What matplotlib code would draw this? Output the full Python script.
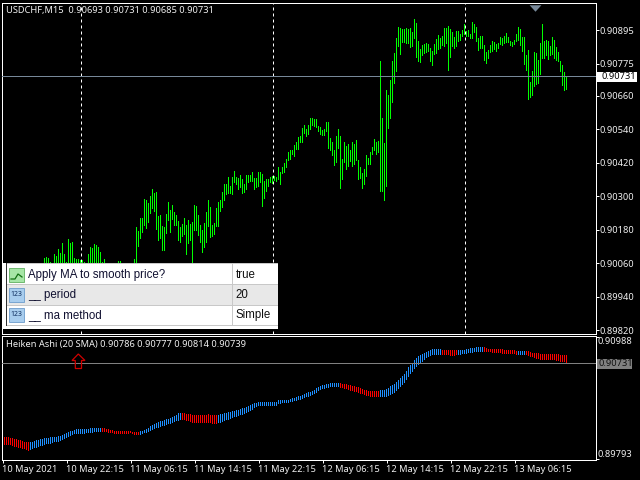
import matplotlib
matplotlib.use('Agg')
import matplotlib.pyplot as plt
from matplotlib.patches import Rectangle, Polygon

plt.rcParams['font.family'] = ['Noto Sans', 'DejaVu Sans']

# main window, one entry per 15 minute bar
high = [
    0.89956, 0.89964, 0.89971, 0.89949, 0.89942, 0.89956, 0.89935, 0.89928, 0.89942, 0.89956,
    0.89949, 0.89971, 0.89985, 0.89971, 0.89992, 0.90007, 0.90021, 0.90014, 0.90028, 0.90042, 0.90050,
    0.90078, 0.90082, 0.90078, 0.90064, 0.90060, 0.90093, 0.90085, 0.90111, 0.90096, 0.90132,
    0.90093, 0.90064, 0.90146, 0.90132, 0.90136, 0.90078, 0.90075, 0.90075, 0.90071, 0.90071,
    0.90064, 0.90053, 0.90093, 0.90118, 0.90114, 0.90128, 0.90125, 0.90118, 0.90100, 0.90064,
    0.90075, 0.90057, 0.90050, 0.90035, 0.90028, 0.90035, 0.90042, 0.90067, 0.90067, 0.90050,
    0.90042, 0.90035, 0.90042, 0.90050, 0.90057,
    0.90075, 0.90189, 0.90175, 0.90222, 0.90222, 0.90290, 0.90286, 0.90275, 0.90301, 0.90326,
    0.90311, 0.90315, 0.90229, 0.90232, 0.90193, 0.90190, 0.90236, 0.90279, 0.90250, 0.90268,
    0.90243, 0.90232, 0.90211, 0.90190, 0.90200, 0.90222, 0.90197, 0.90215, 0.90200, 0.90207,
    0.90268, 0.90265, 0.90232, 0.90197, 0.90179, 0.90204, 0.90243, 0.90286, 0.90261, 0.90197,
    0.90204, 0.90258, 0.90279, 0.90286, 0.90315, 0.90344, 0.90344, 0.90369, 0.90337, 0.90369,
    0.90390, 0.90369, 0.90365, 0.90376, 0.90362, 0.90344, 0.90376, 0.90376, 0.90376, 0.90387,
    0.90365, 0.90365, 0.90387, 0.90387, 0.90380, 0.90354, 0.90362, 0.90362, 0.90369, 0.90372,
    0.90372, 0.90369, 0.90405, 0.90387, 0.90405, 0.90419, 0.90433, 0.90458, 0.90466, 0.90466,
    0.90484, 0.90494, 0.90512, 0.90516, 0.90545, 0.90555, 0.90541, 0.90555, 0.90580, 0.90580,
    0.90577, 0.90577, 0.90552, 0.90548, 0.90537, 0.90541, 0.90566, 0.90566, 0.90509, 0.90494,
    0.90466, 0.90516, 0.90541, 0.90516, 0.90433, 0.90494, 0.90480, 0.90487, 0.90466, 0.90494,
    0.90487, 0.90502, 0.90430, 0.90405, 0.90383, 0.90398, 0.90448, 0.90437, 0.90458, 0.90476,
    0.90505, 0.90494, 0.90498, 0.90785, 0.90580, 0.90491, 0.90681, 0.90663, 0.90717, 0.90785,
    0.90814, 0.90867, 0.90907, 0.90903, 0.90900, 0.90900, 0.90903, 0.90900, 0.90903, 0.90889,
    0.90936, 0.90921, 0.90857, 0.90828, 0.90842, 0.90846, 0.90850, 0.90846, 0.90832, 0.90821,
    0.90846, 0.90864, 0.90878, 0.90867, 0.90875, 0.90903, 0.90903, 0.90910, 0.90900, 0.90889,
    0.90871, 0.90893, 0.90893, 0.90882, 0.90896, 0.90918, 0.90893, 0.90896, 0.90882, 0.90925,
    0.90918, 0.90907, 0.90867, 0.90875, 0.90875, 0.90842, 0.90817, 0.90824, 0.90842, 0.90857,
    0.90853, 0.90846, 0.90850, 0.90871, 0.90867, 0.90875, 0.90885, 0.90871, 0.90857, 0.90853,
    0.90860, 0.90882, 0.90907, 0.90900, 0.90871, 0.90871, 0.90806, 0.90824, 0.90710, 0.90749,
    0.90817, 0.90814, 0.90789, 0.90850, 0.90918, 0.90857, 0.90860, 0.90857, 0.90839, 0.90871,
    0.90860, 0.90835, 0.90817, 0.90785, 0.90771, 0.90745, 0.90731,
]
low = [
    0.89859, 0.89899, 0.89906, 0.89885, 0.89877, 0.89892, 0.89870, 0.89863, 0.89885, 0.89899,
    0.89892, 0.89913, 0.89928, 0.89913, 0.89935, 0.89949, 0.89964, 0.89956, 0.89971, 0.89985, 0.89992,
    0.90014, 0.90021, 0.90014, 0.89999, 0.89992, 0.90028, 0.90021, 0.90042, 0.90028, 0.90057,
    0.90021, 0.89999, 0.90050, 0.90050, 0.90042, 0.90014, 0.90007, 0.90007, 0.89999, 0.89999,
    0.89992, 0.89985, 0.90028, 0.90042, 0.90042, 0.90057, 0.90050, 0.90042, 0.90028, 0.89999,
    0.90007, 0.89985, 0.89978, 0.89971, 0.89964, 0.89971, 0.89978, 0.89999, 0.89999, 0.89985,
    0.89978, 0.89971, 0.89978, 0.89985, 0.89992,
    0.90035, 0.90042, 0.90118, 0.90146, 0.90168, 0.90193, 0.90182, 0.90204, 0.90236, 0.90254,
    0.90243, 0.90179, 0.90139, 0.90146, 0.90103, 0.90103, 0.90164, 0.90211, 0.90168, 0.90215,
    0.90193, 0.90193, 0.90139, 0.90132, 0.90154, 0.90161, 0.90089, 0.90128, 0.90139, 0.90042,
    0.90175, 0.90175, 0.90157, 0.90132, 0.90096, 0.90114, 0.90132, 0.90190, 0.90150, 0.90154,
    0.90161, 0.90190, 0.90190, 0.90243, 0.90258, 0.90283, 0.90304, 0.90308, 0.90308, 0.90304,
    0.90347, 0.90340, 0.90322, 0.90329, 0.90308, 0.90311, 0.90322, 0.90347, 0.90351, 0.90351,
    0.90322, 0.90329, 0.90333, 0.90347, 0.90261, 0.90290, 0.90315, 0.90333, 0.90347, 0.90344,
    0.90354, 0.90351, 0.90358, 0.90340, 0.90380, 0.90383, 0.90401, 0.90426, 0.90430, 0.90448,
    0.90441, 0.90466, 0.90466, 0.90491, 0.90491, 0.90523, 0.90512, 0.90519, 0.90537, 0.90552,
    0.90548, 0.90545, 0.90530, 0.90519, 0.90516, 0.90516, 0.90530, 0.90469, 0.90462, 0.90444,
    0.90408, 0.90419, 0.90469, 0.90326, 0.90358, 0.90419, 0.90394, 0.90405, 0.90423, 0.90405,
    0.90412, 0.90426, 0.90358, 0.90362, 0.90326, 0.90340, 0.90369, 0.90412, 0.90412, 0.90448,
    0.90462, 0.90448, 0.90455, 0.90315, 0.90315, 0.90283, 0.90333, 0.90541, 0.90577, 0.90634,
    0.90702, 0.90745, 0.90835, 0.90806, 0.90850, 0.90850, 0.90846, 0.90846, 0.90832, 0.90835,
    0.90864, 0.90796, 0.90781, 0.90778, 0.90803, 0.90810, 0.90814, 0.90817, 0.90781, 0.90767,
    0.90806, 0.90810, 0.90824, 0.90828, 0.90839, 0.90835, 0.90846, 0.90749, 0.90796, 0.90835,
    0.90828, 0.90835, 0.90853, 0.90857, 0.90871, 0.90878, 0.90871, 0.90871, 0.90864, 0.90864,
    0.90885, 0.90853, 0.90821, 0.90828, 0.90828, 0.90785, 0.90774, 0.90792, 0.90814, 0.90817,
    0.90824, 0.90817, 0.90828, 0.90842, 0.90839, 0.90846, 0.90850, 0.90850, 0.90839, 0.90835,
    0.90842, 0.90853, 0.90857, 0.90839, 0.90817, 0.90771, 0.90749, 0.90645, 0.90652, 0.90659,
    0.90692, 0.90699, 0.90702, 0.90735, 0.90792, 0.90792, 0.90803, 0.90789, 0.90803, 0.90806,
    0.90792, 0.90785, 0.90781, 0.90745, 0.90695, 0.90677, 0.90681,
]

# Heiken Ashi window
ha_high = [
    0.90015, 0.90015, 0.90015, 0.90015, 0.90005, 0.90005, 0.89996, 0.89996, 0.89986, 0.89986,
    0.89976, 0.89966, 0.89966, 0.89966, 0.89966, 0.89966, 0.89976, 0.89986, 0.89986, 0.89996,
    0.89996, 0.90005, 0.90005, 0.90005, 0.90015, 0.90015, 0.90015, 0.90015, 0.90025, 0.90025,
    0.90035, 0.90044, 0.90054, 0.90064, 0.90073, 0.90073, 0.90083, 0.90093, 0.90093, 0.90093,
    0.90093, 0.90093, 0.90093, 0.90093, 0.90103, 0.90103, 0.90103, 0.90103, 0.90103, 0.90103,
    0.90103, 0.90103, 0.90093, 0.90093, 0.90083, 0.90083, 0.90073, 0.90073, 0.90073, 0.90073,
    0.90073, 0.90073, 0.90073, 0.90073, 0.90073, 0.90064, 0.90064, 0.90064, 0.90064, 0.90073,
    0.90073, 0.90083, 0.90093, 0.90103, 0.90122, 0.90132, 0.90141, 0.90151, 0.90161, 0.90171,
    0.90171, 0.90180, 0.90190, 0.90190, 0.90200, 0.90210, 0.90219, 0.90229, 0.90248, 0.90248,
    0.90248, 0.90248, 0.90239, 0.90239,
    0.90239, 0.90229, 0.90229, 0.90229, 0.90229, 0.90229, 0.90229, 0.90229, 0.90229, 0.90239,
    0.90229, 0.90229, 0.90229, 0.90229, 0.90229, 0.90239, 0.90239, 0.90248, 0.90248, 0.90258,
    0.90258, 0.90268, 0.90268, 0.90278, 0.90278, 0.90287, 0.90297, 0.90297, 0.90307, 0.90316,
    0.90326, 0.90336, 0.90346, 0.90346, 0.90355, 0.90355, 0.90355, 0.90355, 0.90355, 0.90355,
    0.90355, 0.90355, 0.90355, 0.90355, 0.90375, 0.90375, 0.90375, 0.90375, 0.90375, 0.90375,
    0.90384, 0.90394, 0.90394, 0.90404, 0.90414, 0.90414, 0.90423, 0.90433, 0.90443, 0.90453,
    0.90453, 0.90462, 0.90472, 0.90491, 0.90501, 0.90511, 0.90521, 0.90521, 0.90530, 0.90530,
    0.90540, 0.90540, 0.90540, 0.90540, 0.90540, 0.90540, 0.90530, 0.90530, 0.90530, 0.90521,
    0.90521, 0.90511, 0.90511, 0.90501, 0.90501, 0.90491, 0.90482, 0.90472, 0.90472, 0.90462,
    0.90462, 0.90462, 0.90462, 0.90462, 0.90462,
    0.90472, 0.90472, 0.90472, 0.90482, 0.90491, 0.90511, 0.90521, 0.90530, 0.90550, 0.90569,
    0.90589, 0.90608, 0.90627, 0.90657, 0.90696, 0.90715, 0.90734, 0.90764, 0.90783, 0.90802,
    0.90812, 0.90822, 0.90832, 0.90841, 0.90851, 0.90861, 0.90870, 0.90870, 0.90870, 0.90870,
    0.90870, 0.90861, 0.90861, 0.90861, 0.90861, 0.90861, 0.90861, 0.90861, 0.90861, 0.90861,
    0.90861, 0.90861, 0.90861, 0.90870, 0.90870, 0.90880, 0.90880, 0.90880, 0.90890, 0.90890,
    0.90890, 0.90890, 0.90890, 0.90880, 0.90870, 0.90870, 0.90870, 0.90870, 0.90870, 0.90870,
    0.90870, 0.90870, 0.90861, 0.90861, 0.90861, 0.90861, 0.90861, 0.90861, 0.90851, 0.90851,
    0.90851, 0.90851, 0.90851, 0.90851, 0.90851, 0.90841, 0.90832, 0.90832, 0.90832, 0.90832,
    0.90822, 0.90822, 0.90822, 0.90822, 0.90822, 0.90822, 0.90822, 0.90822, 0.90822, 0.90822,
    0.90812, 0.90812, 0.90812, 0.90812,
]
ha_low = [
    0.89937, 0.89937, 0.89937, 0.89937, 0.89937, 0.89928, 0.89918, 0.89918, 0.89908, 0.89908,
    0.89898, 0.89898, 0.89889, 0.89879, 0.89889, 0.89898, 0.89908, 0.89908, 0.89918, 0.89928,
    0.89928, 0.89937, 0.89947, 0.89947, 0.89947, 0.89957, 0.89966, 0.89966, 0.89966, 0.89976,
    0.89986, 0.89996, 0.90005, 0.90015, 0.90025, 0.90035, 0.90044, 0.90044, 0.90044, 0.90044,
    0.90044, 0.90044, 0.90054, 0.90054, 0.90054, 0.90054, 0.90064, 0.90064, 0.90064, 0.90064,
    0.90064, 0.90064, 0.90064, 0.90054, 0.90054, 0.90054, 0.90044, 0.90044, 0.90044, 0.90044,
    0.90044, 0.90044, 0.90044, 0.90044, 0.90054, 0.90044, 0.90035, 0.90035, 0.90035, 0.90035,
    0.90044, 0.90054, 0.90054, 0.90064, 0.90073, 0.90083, 0.90093, 0.90103, 0.90103, 0.90112,
    0.90122, 0.90122, 0.90132, 0.90141, 0.90141, 0.90151, 0.90161, 0.90171, 0.90171, 0.90180,
    0.90180, 0.90180, 0.90171, 0.90171,
    0.90161, 0.90151, 0.90151, 0.90151, 0.90151, 0.90151, 0.90151, 0.90151, 0.90151, 0.90151,
    0.90151, 0.90141, 0.90141, 0.90141, 0.90151, 0.90151, 0.90161, 0.90171, 0.90180, 0.90180,
    0.90190, 0.90200, 0.90210, 0.90210, 0.90219, 0.90229, 0.90229, 0.90239, 0.90248, 0.90258,
    0.90268, 0.90278, 0.90297, 0.90307, 0.90316, 0.90316, 0.90316, 0.90316, 0.90316, 0.90316,
    0.90316, 0.90316, 0.90316, 0.90316, 0.90336, 0.90336, 0.90346, 0.90346, 0.90346, 0.90346,
    0.90355, 0.90355, 0.90365, 0.90365, 0.90375, 0.90375, 0.90384, 0.90394, 0.90404, 0.90404,
    0.90414, 0.90423, 0.90433, 0.90443, 0.90462, 0.90472, 0.90482, 0.90482, 0.90491, 0.90491,
    0.90501, 0.90501, 0.90501, 0.90501, 0.90501, 0.90491, 0.90491, 0.90482, 0.90482, 0.90472,
    0.90462, 0.90462, 0.90453, 0.90453, 0.90443, 0.90433, 0.90433, 0.90423, 0.90414, 0.90414,
    0.90404, 0.90404, 0.90404, 0.90404, 0.90404,
    0.90404, 0.90404, 0.90404, 0.90404, 0.90414, 0.90423, 0.90433, 0.90443, 0.90462, 0.90482,
    0.90501, 0.90521, 0.90540, 0.90569, 0.90598, 0.90627, 0.90647, 0.90676, 0.90696, 0.90715,
    0.90725, 0.90744, 0.90764, 0.90783, 0.90793, 0.90802, 0.90812, 0.90812, 0.90812, 0.90812,
    0.90812, 0.90812, 0.90812, 0.90812, 0.90812, 0.90802, 0.90802, 0.90802, 0.90812, 0.90812,
    0.90812, 0.90822, 0.90822, 0.90822, 0.90832, 0.90832, 0.90832, 0.90841, 0.90841, 0.90841,
    0.90841, 0.90841, 0.90841, 0.90841, 0.90841, 0.90841, 0.90832, 0.90832, 0.90832, 0.90832,
    0.90832, 0.90822, 0.90822, 0.90822, 0.90822, 0.90822, 0.90822, 0.90822, 0.90812, 0.90812,
    0.90812, 0.90812, 0.90812, 0.90812, 0.90802, 0.90793, 0.90793, 0.90783, 0.90773, 0.90773,
    0.90764, 0.90764, 0.90764, 0.90764, 0.90764, 0.90764, 0.90764, 0.90764, 0.90754, 0.90754,
    0.90744, 0.90744, 0.90744, 0.90734,
]
# colour runs of the Heiken Ashi bars: how many bars, then up or down
ha_runs = [(14, 'dn'), (36, 'up'), (19, 'dn'), (21, 'up'), (18, 'dn'), (61, 'up'), (20, 'dn'),
           (31, 'up'), (8, 'dn'), (13, 'up'), (17, 'dn'), (4, 'up'), (21, 'dn')]

last_price = 0.90731
main_ticks = [0.90895, 0.90775, 0.90660, 0.90540, 0.90420, 0.90300, 0.90180, 0.90060, 0.89940, 0.89820]
main_tick_labels = ['0.90895', '0.90775', '0.90660', '0.90540', '0.90420', '0.90300', '0.90180', '0.90060', '0.89940', '0.89820']
ha_ticks = [0.90988, 0.89793]
time_ticks = [0, 32, 64, 96, 128, 160, 192, 224, 256]
time_labels = ['10 May 2021', '10 May 22:15', '11 May 06:15', '11 May 14:15', '11 May 22:15',
               '12 May 06:15', '12 May 14:15', '12 May 22:15', '13 May 06:15']
midnight_bars = [39, 135, 231]

assert len(high) == len(low) == len(ha_high) == len(ha_low) == 283
bars = list(range(283))
ha_colors = []
for n, kind in ha_runs:
    ha_colors += ['#1E90FF' if kind == 'up' else '#FF0000'] * n

W, H = 640, 480
TXT = '#F0F0F0'
ONE_PX = 0.72
FS = 6.7


def rect_px(left, top, right, bottom):
    return [left / W, 1 - bottom / H, (right - left) / W, (bottom - top) / H]


def xy(x, y):
    return x / W, 1 - y / H


def box(left, top, right, bottom, **kw):
    x0, y0 = xy(left, bottom)
    fig.add_artist(Rectangle((x0, y0), (right - left) / W, (bottom - top) / H,
                             transform=fig.transFigure, linewidth=kw.pop('lw', 0), **kw))


fig = plt.figure(figsize=(6.4, 4.8), dpi=100, facecolor='black')
ax = fig.add_axes(rect_px(1.5, 2.5, 595.5, 333.5), facecolor='black')
ax2 = fig.add_axes(rect_px(1.5, 336, 595.5, 459.5), facecolor='black')

for a in (ax, ax2):
    for s in a.spines.values():
        s.set_color('white')
        s.set_linewidth(ONE_PX)
    a.yaxis.tick_right()

for b in midnight_bars:
    ax.axvline(b, color='white', lw=ONE_PX, ls=(0, (3, 3)), zorder=1)
# a bar of width 0.5 is one pixel here, bars stand two pixels apart
ax.bar(bars, [h - l for h, l in zip(high, low)], bottom=low, width=0.5, color='#00FF00', linewidth=0, zorder=2)
ax2.bar(bars, [h - l for h, l in zip(ha_high, ha_low)], bottom=ha_low, width=0.5, color=ha_colors, linewidth=0, zorder=2)
ax.axhline(last_price, color='#778899', lw=ONE_PX, zorder=3)
ax.plot([266], [0.90975], marker=[(-1, 0.55), (1, 0.55), (0, -0.55)], ms=8.5, color='#778899',
        mec='none', ls='none', zorder=4)
ax2.axhline(last_price, color='#808080', lw=ONE_PX, zorder=3)

for a in (ax, ax2):
    a.set_xlim(-0.5, 296.5)
ax.set_ylim(0.89808, 0.90995)
ax2.set_ylim(0.89796, 0.90997)

ax.set_xticks([])
ax.set_yticks(main_ticks)
ax.set_yticklabels(main_tick_labels)
ax.tick_params(axis='y', colors='white', labelcolor=TXT, labelsize=FS, length=2.2, width=ONE_PX, pad=1.0)

ax2.set_yticks(ha_ticks)
ax2.set_yticklabels(['0.90988', '0.89793'])
ax2.tick_params(axis='y', colors='white', labelcolor=TXT, labelsize=FS, length=2.2, width=ONE_PX, pad=-0.4)
ax2.get_yticklabels()[0].set_va('top')
ax2.get_yticklabels()[1].set_va('bottom')

ax2.set_xticks(time_ticks)
ax2.set_xticklabels(time_labels, ha='left')
ax2.tick_params(axis='x', colors='white', labelcolor=TXT, labelsize=FS, length=2.2, width=ONE_PX, pad=1.5)

# captions
x0, y0 = xy(6, 11)
fig.text(x0, y0, 'USDCHF,M15  0.90693 0.90731 0.90685 0.90731', color=TXT, fontsize=FS, va='center')
x0, y0 = xy(6, 344.7)
fig.text(x0, y0, 'Heiken Ashi (20 SMA) 0.90786 0.90777 0.90814 0.90739', color=TXT, fontsize=FS, va='center')

# price labels on the right
box(597, 72, 637, 81.5, facecolor='white')
x0, y0 = xy(601, 76.8)
fig.text(x0, y0, '0.90731', color='black', fontsize=FS, va='center')
box(597, 359, 632, 368.5, facecolor='#808080')
x0, y0 = xy(598.5, 363.8)
fig.text(x0, y0, '0.90731', color='#101010', fontsize=FS, va='center')

# arrow drawn over the indicator window
arrow = [(78.3, 354), (85, 360.5), (81.5, 360.5), (81.5, 368.5), (75.3, 368.5), (75.3, 360.5), (72, 360.5)]
fig.add_artist(Polygon([xy(*p) for p in arrow], closed=True, transform=fig.transFigure,
                       facecolor='none', edgecolor='#D00000', linewidth=0.9))

# parameter table over the chart
box(3, 263, 278, 329, facecolor='white')
box(5.5, 263, 6.5, 329, facecolor='#303030')
box(7, 284.5, 278, 304.5, facecolor='#E8E8E8')
for y in (263, 284, 304.5, 324.5):
    box(7, y, 278, y + 1, facecolor='#C8C8C8')
box(232, 263, 233, 325, facecolor='#C8C8C8')
box(3, 326, 278, 329, facecolor='white')

rows = [('Apply MA to smooth price?', 'true', 275), ('__ period', '20', 295), ('__ ma method', 'Simple', 315)]
for name, value, y in rows:
    x0, y0 = xy(28, y)
    fig.text(x0, y0, name, color='#101030', fontsize=8.3, family=['Liberation Sans', 'DejaVu Sans'], va='center')
    x0, y0 = xy(235.5, y)
    fig.text(x0, y0, value, color='#101010', fontsize=8.3, family=['Liberation Sans', 'DejaVu Sans'], va='center')

box(9, 268, 24, 282, facecolor='#A6E6A6', edgecolor='#60B060', lw=0.6)
line = [(11, 279), (15, 279), (18, 274), (22, 277)]
fig.add_artist(plt.Line2D([xy(*p)[0] for p in line], [xy(*p)[1] for p in line], color='#107010', lw=0.9))
for y in (288, 308):
    box(9, y, 24, y + 14, facecolor='#A8CDEE', edgecolor='#6C9CCC', lw=0.6)
    x0, y0 = xy(16.5, y + 7)
    fig.text(x0, y0, '123', color='#103060', fontsize=5, ha='center', va='center')

fig.savefig('out.png', dpi=100, facecolor='black')
